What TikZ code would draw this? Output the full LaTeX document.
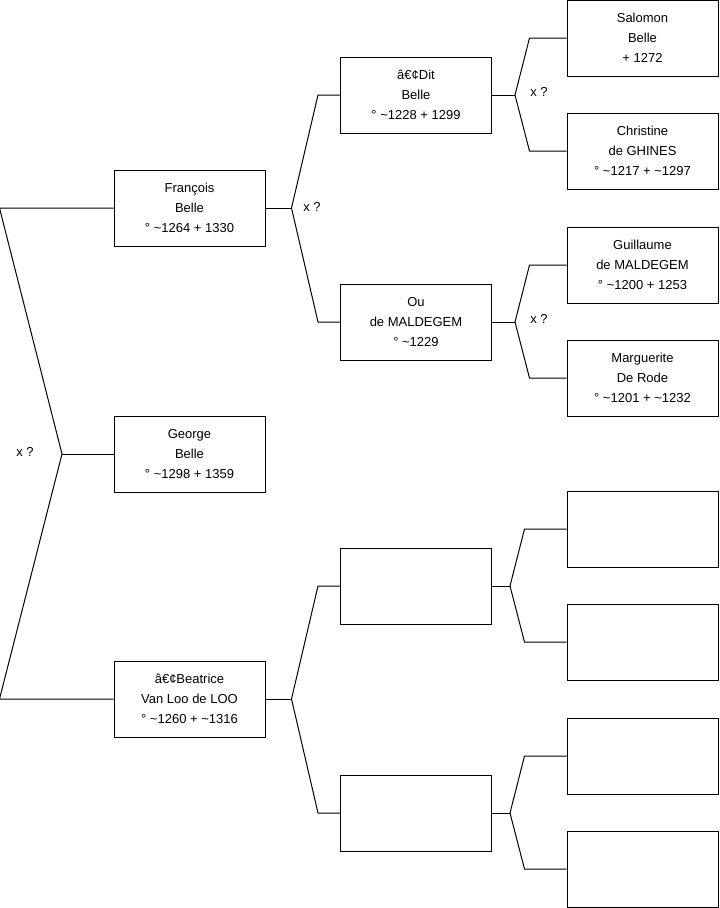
\documentclass[tikz,border=0pt]{standalone}
\usepackage{fontspec}
\setmainfont{Liberation Sans}
\usetikzlibrary{calc}
\newcommand{\abt}{\textasciitilde}

\begin{document}
\begin{tikzpicture}[x=0.75pt, y=-0.75pt, line width=0.75pt,
    person/.style={draw, minimum width=113.25pt, minimum height=57pt, inner sep=0pt,
      align=center, font=\fontsize{9.75}{15}\selectfont},
    xq/.style={font=\fontsize{9.75}{12}\selectfont}]
  \useasboundingbox (0,0) rectangle (719,908);

  % generation 1
  \node[person] (fr)  at (189.5,208) {François\\Belle\\° \abt1264 + 1330};
  \node[person] (geo) at (189.5,454) {George\\Belle\\° \abt1298 + 1359};
  \node[person] (bea) at (189.5,699) {â€¢Beatrice\\Van Loo de LOO\\° \abt1260 + \abt1316};

  % generation 2
  \node[person] (dit) at (416,95)  {â€¢Dit\\Belle\\° \abt1228 + 1299};
  \node[person] (ou)  at (416,322) {Ou\\de MALDEGEM\\° \abt1229};
  \node[person] (m1)  at (416,586) {};
  \node[person] (m2)  at (416,813) {};

  % generation 3
  \node[person] (sal) at (642.5,38)  {Salomon\\Belle\\+ 1272};
  \node[person] (chr) at (642.5,151) {Christine\\de GHINES\\° \abt1217 + \abt1297};
  \node[person] (gui) at (642.5,265) {Guillaume\\de MALDEGEM\\° \abt1200 + 1253};
  \node[person] (mar) at (642.5,378) {Marguerite\\De Rode\\° \abt1201 + \abt1232};
  \foreach \y [count=\i] in {529,642,756,869}
    \node[person] (e\i) at (642.5,\y) {};

  % forks
  \foreach \ch/\up/\dn/\f/\k in {fr/dit/ou/26/22, bea/m1/m2/26/22, dit/sal/chr/23/37,
      ou/gui/mar/23/37, m1/e1/e2/18/42, m2/e3/e4/18/42} {
    \coordinate (k-\ch) at ($(\ch.east)+(\f,0)$);
    \draw (\ch.east) -- (k-\ch);
    \draw (\up.west) -- ($(\up.west)+(-\k,0)$) -- (k-\ch) -- ($(\dn.west)+(-\k,0)$) -- (\dn.west);
  }
  \coordinate (root) at (62,454);
  \draw (fr.west) -- ($(fr.west)+(-114,0)$) -- (root) -- ($(bea.west)+(-114,0)$) -- (bea.west);
  \draw (root) -- (geo.west);

  \node[xq] (xroot) at (25,452)  {x ?};
  \node[xq] (xfr)   at (312,207) {x ?};
  \node[xq] (xdit)  at (539,92)  {x ?};
  \node[xq] (xou)   at (539,319) {x ?};
\end{tikzpicture}
\end{document}
